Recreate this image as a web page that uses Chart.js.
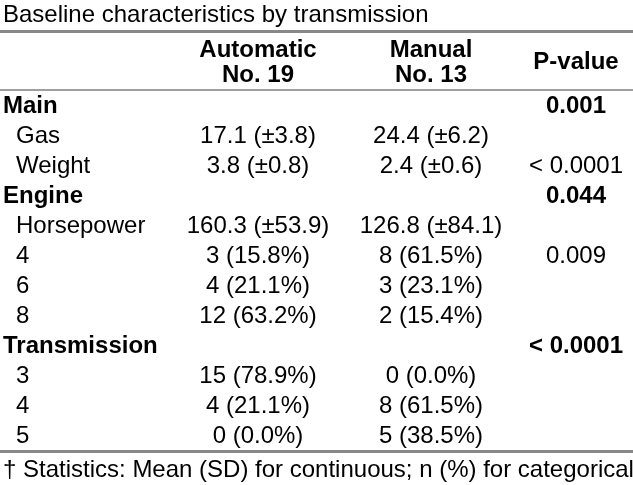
<!DOCTYPE html>
<html>
<head>
<meta charset="utf-8">
<script src="https://cdn.jsdelivr.net/npm/chart.js@4.4.1/dist/chart.umd.min.js"></script>
<style>
  html, body { margin: 0; padding: 0; background: #fff; }
  #wrap { width: 633px; height: 485px; }
</style>
</head>
<body>
<div id="wrap"><canvas id="tbl" width="633" height="485"></canvas></div>
<script>
//========================
// Table data
//========================
const title = 'Baseline characteristics by transmission';
const footnote = '\u2020 Statistics: Mean (SD) for continuous; n (%) for categorical';

const colHeaders = [['Automatic', 'No. 19'], ['Manual', 'No. 13'], ['P-value']];

const rowLabels = ['Main', 'Gas', 'Weight', 'Engine', 'Horsepower', '4', '6', '8',
  'Transmission', '3', '4', '5'];
const groupRows = [true, false, false, true, false, false, false, false,
  true, false, false, false];

const automatic = ['', '17.1 (\u00b13.8)', '3.8 (\u00b10.8)', '', '160.3 (\u00b153.9)',
  '3 (15.8%)', '4 (21.1%)', '12 (63.2%)', '', '15 (78.9%)', '4 (21.1%)', '0 (0.0%)'];
const manual = ['', '24.4 (\u00b16.2)', '2.4 (\u00b10.6)', '', '126.8 (\u00b184.1)',
  '8 (61.5%)', '3 (23.1%)', '2 (15.4%)', '', '0 (0.0%)', '8 (61.5%)', '5 (38.5%)'];
const pValues = ['0.001', '', '< 0.0001', '0.044', '', '0.009', '', '',
  '< 0.0001', '', '', ''];

//========================
// Layout (pixel units on hidden linear scales)
//========================
const layout = {
  labelX: 3,
  indentX: 16,
  colX: [258, 431, 576],
  titleY: 22,
  headY: [57, 82],
  pHeadY: 69,
  firstRowY: 113,
  rowStep: 30,
  footY: 477,
  rules: [
    { y: 31.5, w: 3, color: '#888888' },
    { y: 90, w: 2, color: '#a0a0a0' },
    { y: 451.5, w: 3, color: '#888888' }
  ]
};

const FONT = '"Liberation Sans", Arial, sans-serif';
const SIZE = 24;

const tablePlugin = {
  id: 'tablePlugin',
  beforeDraw(chart) {
    const ctx = chart.ctx;
    ctx.save();
    ctx.fillStyle = '#ffffff';
    ctx.fillRect(0, 0, chart.width, chart.height);
    ctx.restore();
  },
  afterDraw(chart) {
    const ctx = chart.ctx;
    const xs = chart.scales.x;
    const ys = chart.scales.y;
    const px = v => xs.getPixelForValue(v);
    const py = v => ys.getPixelForValue(v);

    const text = (str, x, y, bold, align) => {
      if (!str) return;
      ctx.font = (bold ? 'bold ' : '') + SIZE + 'px ' + FONT;
      ctx.textAlign = align;
      ctx.fillText(str, px(x), py(y));
    };

    ctx.save();
    ctx.fillStyle = '#000000';
    ctx.textBaseline = 'alphabetic';

    // rules
    layout.rules.forEach(r => {
      ctx.beginPath();
      ctx.strokeStyle = r.color;
      ctx.lineWidth = r.w;
      ctx.moveTo(px(0), py(r.y));
      ctx.lineTo(px(633), py(r.y));
      ctx.stroke();
    });

    text(title, layout.labelX, layout.titleY, false, 'left');

    // headers
    colHeaders.forEach((lines, i) => {
      if (lines.length === 1) {
        text(lines[0], layout.colX[i], layout.pHeadY, true, 'center');
      } else {
        lines.forEach((l, j) => text(l, layout.colX[i], layout.headY[j], true, 'center'));
      }
    });

    // body
    rowLabels.forEach((label, i) => {
      const y = layout.firstRowY + i * layout.rowStep;
      const g = groupRows[i];
      text(label, g ? layout.labelX : layout.indentX, y, g, 'left');
      text(automatic[i], layout.colX[0], y, false, 'center');
      text(manual[i], layout.colX[1], y, false, 'center');
      text(pValues[i], layout.colX[2], y, g, 'center');
    });

    text(footnote, layout.labelX, layout.footY, false, 'left');
    ctx.restore();
  }
};

new Chart(document.getElementById('tbl'), {
  type: 'scatter',
  data: { datasets: [{ data: [], pointRadius: 0 }] },
  options: {
    responsive: false,
    animation: false,
    events: [],
    layout: { padding: 0 },
    plugins: { legend: { display: false }, tooltip: { enabled: false } },
    scales: {
      x: { type: 'linear', min: 0, max: 633, display: false },
      y: { type: 'linear', min: 0, max: 485, reverse: true, display: false }
    }
  },
  plugins: [tablePlugin]
});
</script>
</body>
</html>
